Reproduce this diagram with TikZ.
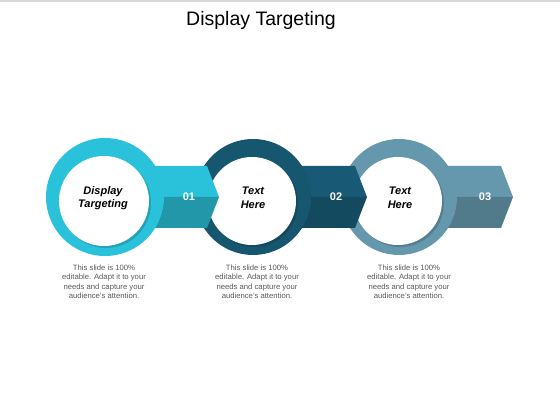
\documentclass[tikz,border=0pt]{standalone}
\usepackage{fontspec}
\setmainfont{Liberation Sans}
\usetikzlibrary{calc, positioning}
\tikzset{
	hole/.style = {fill=white},
	holeshadow/.style = {fill=black, opacity=0.16},
	stepnum/.style = {text=white, font=\bfseries\fontsize{11}{13}\selectfont},
	ringlabel/.style = {align=center, font=\bfseries\itshape\fontsize{11}{13.5}\selectfont},
	blurb/.style = {align=center, text=xtext, font=\fontsize{7.7}{9.5}\selectfont},
}
\definecolor{xcyan}{HTML}{2AC1DB}
\definecolor{xcyandark}{HTML}{2197A9}
\definecolor{xteal}{HTML}{17566F}
\definecolor{xtealtop}{HTML}{185A76}
\definecolor{xtealdark}{HTML}{134A5F}
\definecolor{xslate}{HTML}{6698AD}
\definecolor{xslatedark}{HTML}{517A8B}
\definecolor{xtext}{HTML}{595959}

\begin{document}
\begin{tikzpicture}[x=1pt, y=1pt]
			\useasboundingbox (0,0) rectangle (560,420);
			\fill[black!15] (0,417.5) rectangle (560,420);
			\node[font=\fontsize{19.5}{22}\selectfont] (title) at (261,400) {Display Targeting};
			\coordinate (c1) at (105,223);
			\coordinate (c2) at (253,223);
			\coordinate (c3) at (399,223);
			% third step
			\fill[xslate] (c3) ++(0,31) -- ++(102,0) -- ++(12,-31) -- ++(-114,0) -- cycle;
			\fill[xslatedark] (c3) -- ++(114,0) -- ++(-12,-31) -- ++(-102,0) -- cycle;
			\fill[xslate] (c3) circle (58pt);
			\fill[holeshadow] ($(c3)+(1,-6)$) circle (44pt);
			\fill[hole] ($(c3)+(-1,-4)$) circle (44pt);
			% second step
			\fill[xtealtop] (c2) ++(0,31) -- ++(102,0) -- ++(12,-31) -- ++(-114,0) -- cycle;
			\fill[xtealdark] (c2) -- ++(114,0) -- ++(-12,-31) -- ++(-102,0) -- cycle;
			\fill[xteal] (c2) circle (58pt);
			\fill[holeshadow] ($(c2)+(1,-6)$) circle (44pt);
			\fill[hole] ($(c2)+(-1,-4)$) circle (44pt);
			% first step
			\fill[xcyan] (c1) ++(0,31) -- ++(102,0) -- ++(12,-31) -- ++(-114,0) -- cycle;
			\fill[xcyandark] (c1) -- ++(114,0) -- ++(-12,-31) -- ++(-102,0) -- cycle;
			\fill[xcyan] (c1) circle (59pt);
			\fill[holeshadow] ($(c1)+(1,-6)$) circle (45pt);
			\fill[hole] ($(c1)+(-1,-4)$) circle (45pt);
			% labels
			\node[ringlabel] (label1) at ($(c1)+(-2,-1)$) {Display\\Targeting};
			\node[ringlabel] (label2) at ($(c2)+(0,-1)$) {Text\\Here};
			\node[ringlabel] (label3) at ($(c3)+(1,-1)$) {Text\\Here};
			\node[stepnum] (num1) at ($(c1)+(84,0)$) {01};
			\node[stepnum] (num2) at ($(c2)+(83,0)$) {02};
			\node[stepnum] (num3) at ($(c3)+(86,0)$) {03};
			\node[blurb] (blurb1) at ($(c1)+(-1,-85)$) {This slide is 100\%\\editable. Adapt it to your\\needs and capture your\\audience's attention.};
			\node[blurb] (blurb2) at ($(c2)+(4,-85)$) {This slide is 100\%\\editable. Adapt it to your\\needs and capture your\\audience's attention.};
			\node[blurb] (blurb3) at ($(c3)+(10,-85)$) {This slide is 100\%\\editable. Adapt it to your\\needs and capture your\\audience's attention.};
		\end{tikzpicture}
\end{document}
